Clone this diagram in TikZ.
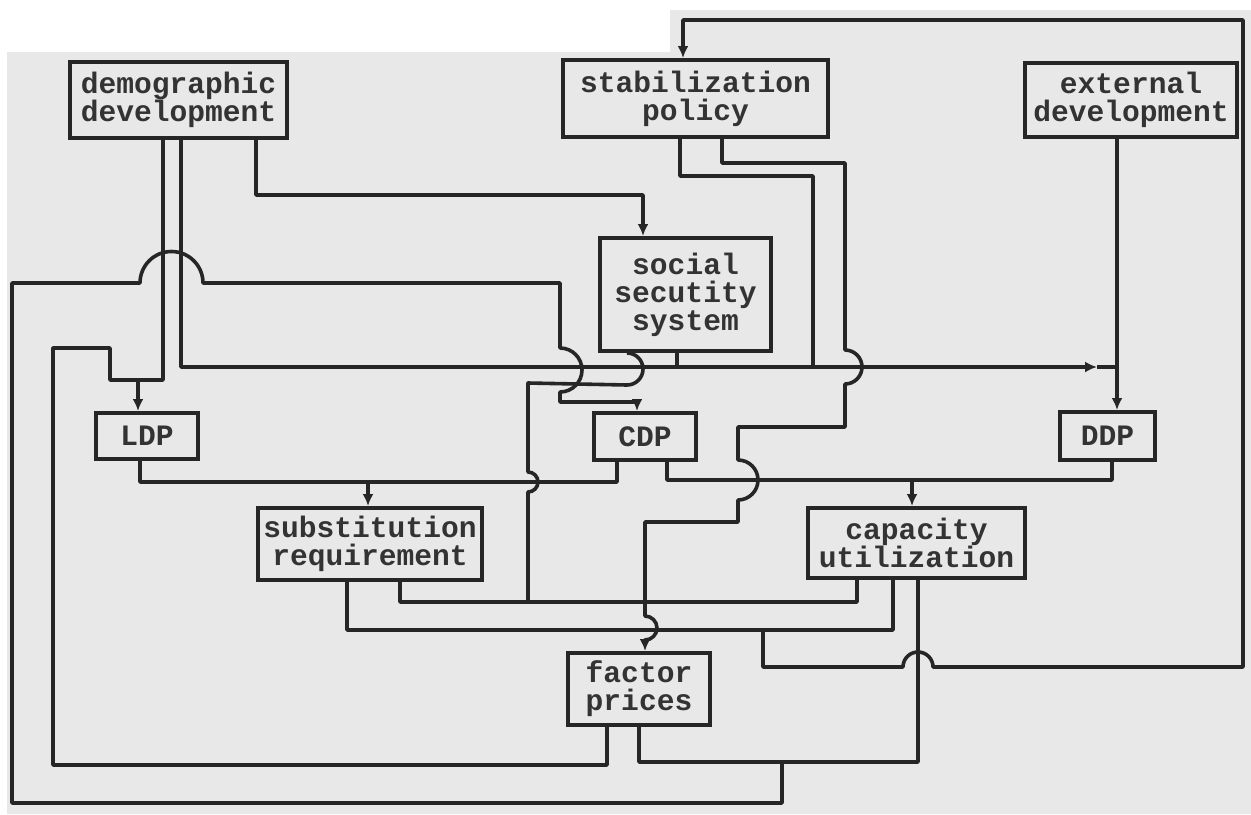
\documentclass[tikz,border=0pt]{standalone}
\usepackage{fontspec}
\setmonofont{Liberation Mono}
\usetikzlibrary{arrows.meta}

\begin{document}
\begin{tikzpicture}[
  x=0.5pt, y=0.5pt,
  blk/.style={draw=black!85, line width=2pt, inner sep=2pt,
              font=\ttfamily\bfseries\fontsize{14.8}{14}\selectfont,
              text=black!80, align=center},
  lnk/.style={draw=black!85, line width=1.8pt, line join=round},
  arr/.style={lnk, -{Latex[length=6pt, width=5.5pt]}}
]
  \useasboundingbox (0,0) rectangle (1251,-814);
  % scanned page
  \fill[gray!18] (7,-52) -- (670,-52) -- (670,-10) -- (1251,-10)
                 -- (1251,-814) -- (7,-814) -- cycle;

  % Sources
  \node[blk, minimum width=108.5pt, minimum height=38pt]   (demo) at (178.5,-100)  {demographic\\development};
  \node[blk, minimum width=132.5pt, minimum height=38.5pt] (stab) at (695.5,-98.5) {stabilization\\policy};
  \node[blk, minimum width=106pt,   minimum height=37pt]   (ext)  at (1131,-100)   {external\\development};

  % Social security
  \node[blk, minimum width=85.5pt, minimum height=56.5pt]  (soc)  at (685.5,-294.5) {social\\secutity\\system};

  % Demand blocks
  \node[blk, minimum width=51pt,   minimum height=23pt]    (ldp)  at (147,-436)    {LDP};
  \node[blk, minimum width=51pt,   minimum height=23.5pt]  (cdp)  at (645,-436.5)  {CDP};
  \node[blk, minimum width=47.5pt, minimum height=24pt]    (ddp)  at (1107.5,-436) {DDP};

  % Supply blocks
  \node[blk, minimum width=112pt,   minimum height=36pt]   (sub)  at (370,-544)    {substitution\\requirement};
  \node[blk, minimum width=108.5pt, minimum height=35pt]   (cap)  at (916.5,-543)  {capacity\\utilization};
  \node[blk, minimum width=71pt,    minimum height=36pt]   (fac)  at (639,-689)    {factor\\prices};

  % Junctions
  \coordinate (jl)   at (138,-380);
  \coordinate (jd)   at (1117,-367);
  \coordinate (jsub) at (368,-482);
  \coordinate (jcap) at (912,-480);
  \coordinate (jf)   at (645,-602);
  \coordinate (js)   at (763,-630);
  \coordinate (jc)   at (782,-762);

  % demographic development
  \draw[arr] (demo.south -| 256,0) |- (643,-195) -- (soc.north -| 643,0);
  \draw[lnk] (demo.south -| 163,0) |- (jl);
  \draw[arr] (demo.south -| 181,0) |- ([xshift=-10pt]jd);
  \draw[lnk] ([xshift=-10pt]jd) -- (jd);

  % external development
  \draw[arr] (ext.south -| 1117,0) -- (ddp.north -| 1117,0);

  % stabilization policy
  \draw[lnk] (stab.south -| 680,0) |- (813,-176) -- (jd -| 813,0);
  \draw[lnk] (stab.south -| 722,0) |- (845,-163) -- (845,-350) arc(90:-90:8.5pt)
             -- (845,-427) -| (738,-460) arc(90:-90:10pt) -- (738,-522) -| (jf);

  % social security system
  \draw[lnk] (soc.south -| 677,0) -- (jd -| 677,0);
  \draw[lnk] (soc.south -| 627,0) arc(90:-90:8pt) -- (528,-383)
             -- (528,-472) arc(90:-90:5pt) -- (jf -| 528,0);

  % LDP, CDP -> substitution requirement
  \draw[lnk] (ldp.south -| 140,0) |- (jsub);
  \draw[lnk] (cdp.south -| 617,0) |- (jsub);
  \draw[arr] (jsub) -- (sub.north -| 368,0);

  % CDP, DDP -> capacity utilization
  \draw[lnk] (cdp.south -| 667,0) |- (jcap);
  \draw[lnk] (ddp.south -| 1112,0) |- (jcap);
  \draw[arr] (jcap) -- (cap.north -| 912,0);

  % -> factor prices
  \draw[lnk] (sub.south -| 400,0) |- (jf);
  \draw[lnk] (cap.south -| 857,0) |- (jf);
  \draw[arr] (jf) -- (645,-616) arc(90:-90:6pt) -- (fac.north -| 645,0);

  % feedback to stabilization policy
  \draw[lnk] (sub.south -| 347,0) |- (js);
  \draw[lnk] (cap.south -| 893,0) |- (js);
  \draw[arr] (js) |- (903,-667) arc(180:0:7.5pt) -- (1243,-667)
             -- (1243,-20) -| (stab.north -| 683,0);

  % factor prices -> LDP
  \draw[lnk] (fac.south -| 607,0) |- (53,-765) |- (110,-348) |- (jl);
  \draw[arr] (jl) -- (ldp.north -| 138,0);

  % factor prices, capacity utilization -> CDP
  \draw[lnk] (fac.south -| 639,0) |- (jc);
  \draw[lnk] (cap.south -| 918,0) |- (jc);
  \draw[arr] (jc) |- (12,-803) -- (12,-283) -- (140,-283) arc(180:0:15.75pt)
             -- (560,-283) -- (560,-348) arc(90:-90:11pt) -- (560,-402)
             -| (cdp.north -| 637,0);
\end{tikzpicture}
\end{document}
